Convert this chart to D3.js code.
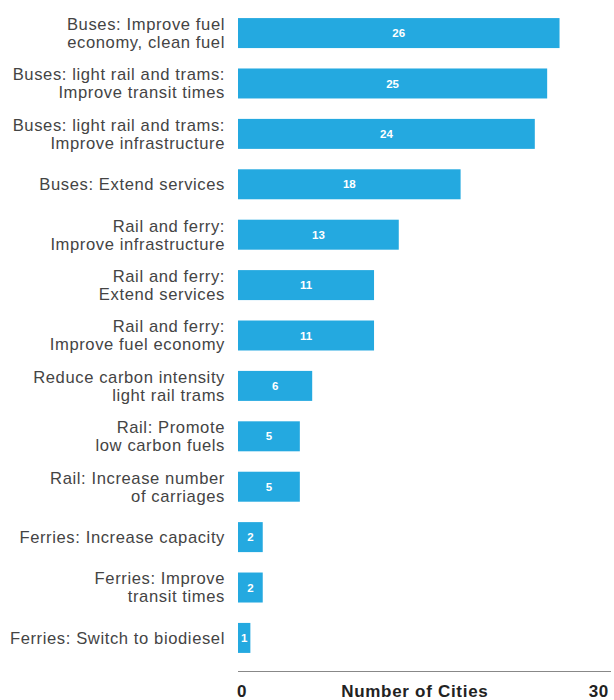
<!DOCTYPE html>
<html>
<head>
<meta charset="utf-8">
<script src="https://cdn.jsdelivr.net/npm/d3@7"></script>
<style>
  body { margin: 0; background: #fff; }
  text { font-family: "Liberation Sans", Arial, sans-serif; }
</style>
</head>
<body>
<div class="chart"></div>
<script>
// categories, split into label lines
const labels = [
  ["Buses: Improve fuel", "economy, clean fuel"],
  ["Buses: light rail and trams:", "Improve transit times"],
  ["Buses: light rail and trams:", "Improve infrastructure"],
  ["Buses: Extend services"],
  ["Rail and ferry:", "Improve infrastructure"],
  ["Rail and ferry:", "Extend services"],
  ["Rail and ferry:", "Improve fuel economy"],
  ["Reduce carbon intensity", "light rail trams"],
  ["Rail: Promote", "low carbon fuels"],
  ["Rail: Increase number", "of carriages"],
  ["Ferries: Increase capacity"],
  ["Ferries: Improve", "transit times"],
  ["Ferries: Switch to biodiesel"]
];
const values = [26, 25, 24, 18, 13, 11, 11, 6, 5, 5, 2, 2, 1];
const axisLabels = ["0", "Number of Cities", "30"];

const width = 614;
const height = 700;
const left = 238, right = 609;

const svg = d3.select('.chart')
    .append('svg')
    .attr('width', width)
    .attr('height', height);

const x = d3.scaleLinear().domain([0, 30]).range([left, right]);
const y = d3.scaleBand()
    .domain(d3.range(values.length))
    .range([8, 663])
    .paddingInner(0.405)
    .paddingOuter(0.2);

// bars
svg.selectAll("rect.bar")
    .data(values)
    .enter()
    .append("rect")
    .attr("class", "bar")
    .attr("x", x(0))
    .attr("y", (d, i) => y(i))
    .attr("width", d => x(d) - x(0))
    .attr("height", y.bandwidth())
    .attr("fill", "#24a9e0");

// values inside bars
svg.selectAll("text.val")
    .data(values)
    .enter()
    .append("text")
    .attr("class", "val")
    .text(d => d)
    .attr("x", d => (x(0) + x(d)) / 2)
    .attr("y", (d, i) => y(i) + y.bandwidth() / 2)
    .attr("dy", "0.35em")
    .attr("text-anchor", "middle")
    .attr("fill", "#fff")
    .attr("font-weight", "bold")
    .attr("font-size", 11.5);

// category labels
const lab = svg.selectAll("text.cat")
    .data(labels)
    .enter()
    .append("text")
    .attr("class", "cat")
    .attr("text-anchor", "end")
    .attr("fill", "#444")
    .attr("font-size", 16.6)
    .attr("letter-spacing", 0.6);

lab.each(function(lines, i) {
    const cy = y(i) + y.bandwidth() / 2;
    const t = d3.select(this);
    lines.forEach((line, j) => {
        t.append("tspan")
            .attr("x", 225)
            .attr("y", cy + (j - (lines.length - 1) / 2) * 18)
            .attr("dy", "0.35em")
            .text(line);
    });
});

// axis line
svg.append("line")
    .attr("x1", x(0))
    .attr("x2", x(30) + 2)
    .attr("y1", 671.5)
    .attr("y2", 671.5)
    .attr("stroke", "#888")
    .attr("stroke-width", 1.2);

// axis labels
svg.selectAll("text.axis")
    .data(axisLabels)
    .enter()
    .append("text")
    .attr("class", "axis")
    .text(d => d)
    .attr("x", (d, i) => i === 0 ? x(0) - 1 : i === 1 ? x(14.3) : x(30))
    .attr("y", 697)
    .attr("text-anchor", (d, i) => i === 0 ? "start" : i === 1 ? "middle" : "end")
    .attr("fill", "#222")
    .attr("font-weight", "bold")
    .attr("font-size", 17)
    .attr("letter-spacing", 0.7);
</script>
</body>
</html>
